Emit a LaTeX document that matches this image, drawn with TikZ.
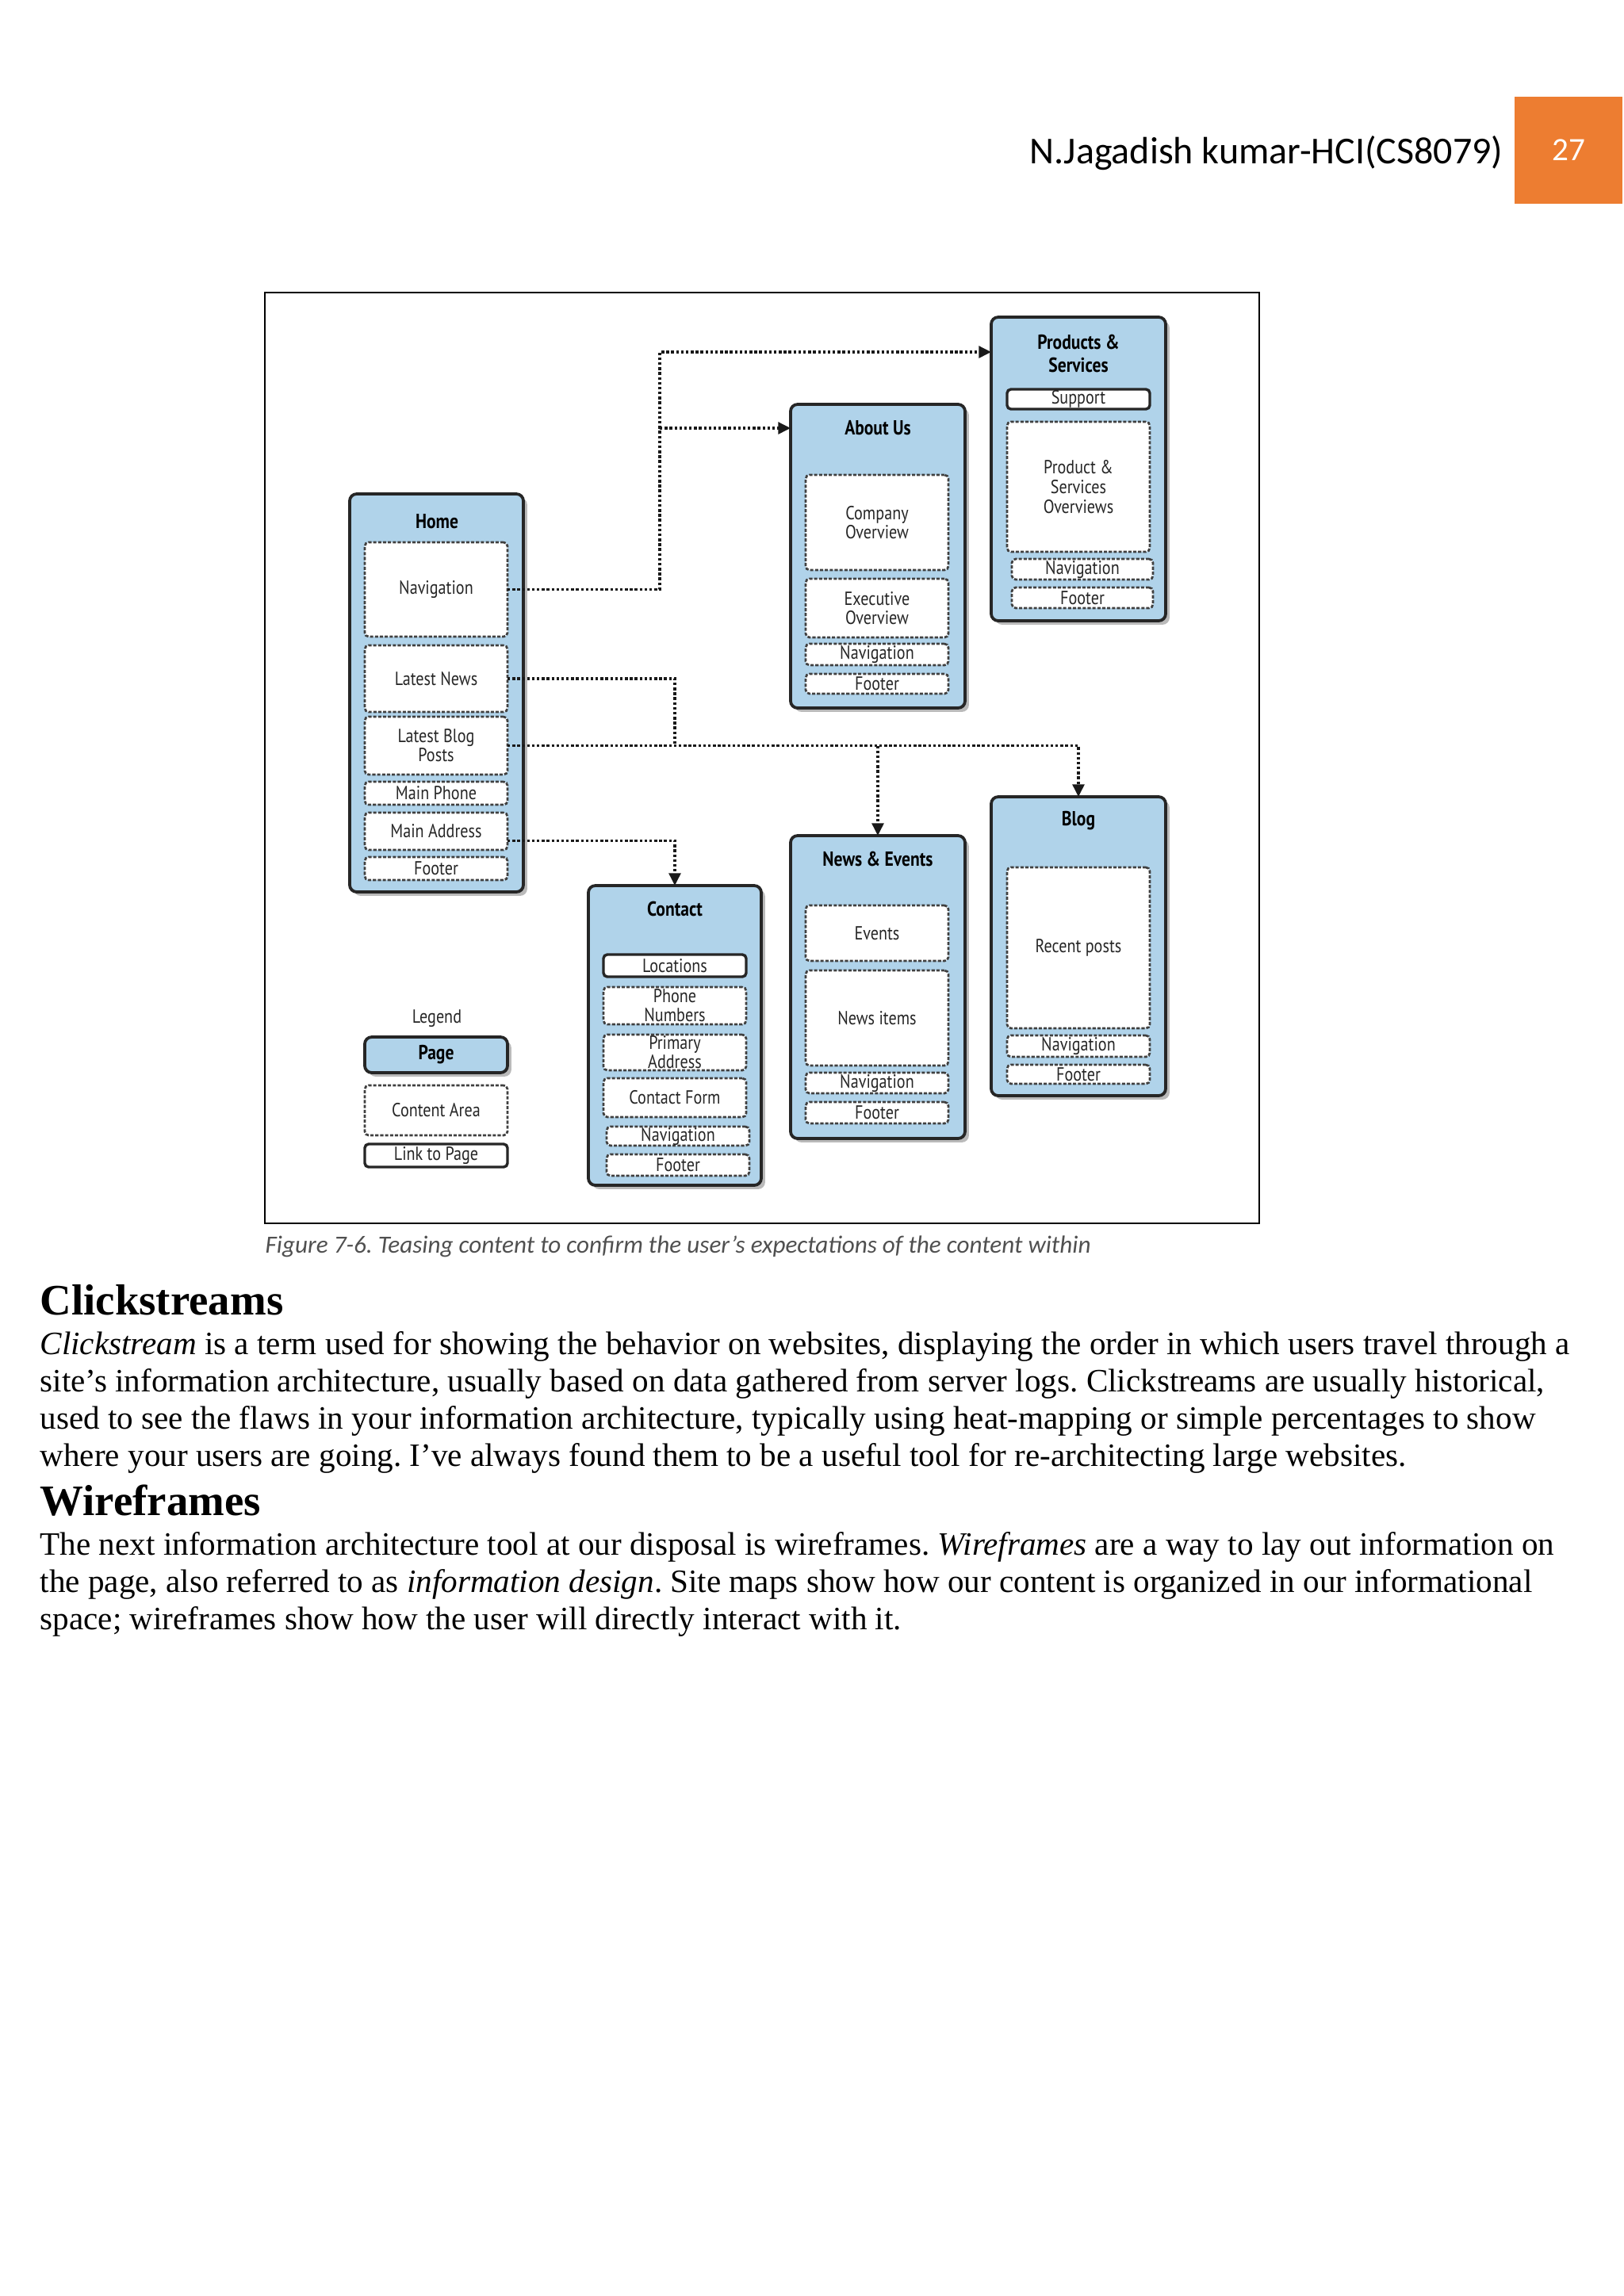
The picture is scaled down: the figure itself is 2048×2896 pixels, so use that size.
\documentclass[tikz,border=0pt]{standalone}
\usepackage{fontspec}
\setmainfont{Liberation Serif}
\newfontfamily\calibf{Carlito}
\newfontfamily\diagf[FakeStretch=0.84]{PT Sans}
\usetikzlibrary{shadows,arrows.meta,calc}
\definecolor{pageblue}{RGB}{176,211,234}
\definecolor{hdrorange}{RGB}{237,125,49}
\definecolor{captgray}{RGB}{80,80,80}
\newlength\px
\setlength\px{0.10254mm}
\newcommand\mkbox[7]{\node[#6, minimum width={(#4-#2)*\px}, minimum height={(#5-#3)*\px}] (#1) at ({(#2+#4)/2},{(#3+#5)/2}) {#7};}
\tikzset{
 pagebox/.style={draw=black!85, line width=1.1pt, fill=pageblue, rounded corners=0.9mm, inner sep=0pt, outer sep=0pt,
   drop shadow={shadow xshift=0.5mm, shadow yshift=-0.5mm, fill=black!60, opacity=0.45}},
 contentbox/.style={draw=black!75, line width=0.8pt, dash pattern=on 1.2pt off 0.6pt, fill=white, rounded corners=0.5mm,
   inner sep=0pt, outer sep=0pt, align=center, text=black!85, font=\diagf\fontsize{7}{7}\selectfont},
 linkbox/.style={draw=black!85, line width=1pt, fill=white, rounded corners=0.5mm, inner sep=0pt, outer sep=0pt,
   align=center, text=black!85, font=\diagf\fontsize{7}{7}\selectfont},
 pagetitle/.style={font=\diagf\bfseries\fontsize{7.5}{8.5}\selectfont, align=center, text=black, inner sep=0pt},
 link/.style={draw=black!90, line width=1pt, dash pattern=on 1pt off 0.8pt},
 linkarrow/.style={link, -{Triangle[length=1.6mm,width=1.5mm]}},
 bodyline/.style={anchor=base west, inner sep=0pt, font=\fontsize{12}{14}\selectfont},
 headline/.style={anchor=base west, inner sep=0pt, font=\bfseries\fontsize{16}{18}\selectfont},
}
\begin{document}
\frenchspacing
\begin{tikzpicture}[x=0.10254mm, y=-0.10254mm]
\useasboundingbox (0,0) rectangle (2048,2896);
\fill[white] (0,0) rectangle (2048,2896);
% header
\node[anchor=base east, inner sep=0pt, font=\calibf\fontsize{14}{16}\selectfont] (hdr) at (1896,206) {N.Jagadish kumar-HCI(CS8079)};
\mkbox{pagenum}{1910}{122}{2046}{257}{fill=hdrorange, inner sep=0pt, text=white, font=\calibf\fontsize{12}{14}\selectfont}{27}
% frame
\mkbox{frame}{334}{369}{1588}{1543}{draw=black, line width=0.6pt, inner sep=0pt}{}
% Home
\mkbox{home}{441}{623}{660}{1125}{pagebox}{}
\node[pagetitle] (hometitle) at (551,658) {Home};
\mkbox{hnav}{460}{684}{640}{803}{contentbox}{Navigation}
\mkbox{hnews}{460}{814}{640}{898}{contentbox}{Latest News}
\mkbox{hblog}{460}{904}{640}{977}{contentbox}{Latest Blog\\Posts}
\mkbox{hphone}{460}{986}{640}{1015}{contentbox}{Main Phone}
\mkbox{haddr}{460}{1025}{640}{1072}{contentbox}{Main Address}
\mkbox{hfoot}{460}{1081}{640}{1110}{contentbox}{Footer}
% About Us
\mkbox{about}{997}{510}{1217}{893}{pagebox}{}
\node[pagetitle] (abouttitle) at (1107,540) {About Us};
\mkbox{acomp}{1016}{599}{1196}{719}{contentbox}{Company\\Overview}
\mkbox{aexec}{1016}{730}{1196}{804}{contentbox}{Executive\\Overview}
\mkbox{anav}{1016}{812}{1196}{839}{contentbox}{Navigation}
\mkbox{afoot}{1016}{850}{1196}{875}{contentbox}{Footer}
% Products & Services
\mkbox{prod}{1250}{400}{1470}{783}{pagebox}{}
\node[pagetitle] (prodtitle) at (1360,446) {Products \&\\Services};
\mkbox{psupport}{1270}{491}{1450}{516}{linkbox}{Support}
\mkbox{pover}{1270}{532}{1450}{696}{contentbox, font=\diagf\fontsize{7}{7.2}\selectfont}{Product \&\\Services\\Overviews}
\mkbox{pnav}{1276}{705}{1454}{731}{contentbox}{Navigation}
\mkbox{pfoot}{1276}{741}{1454}{767}{contentbox}{Footer}
% Blog
\mkbox{blog}{1250}{1005}{1470}{1382}{pagebox}{}
\node[pagetitle] (blogtitle) at (1360,1035) {Blog};
\mkbox{brecent}{1270}{1094}{1450}{1297}{contentbox}{Recent posts}
\mkbox{bnav}{1270}{1306}{1450}{1333}{contentbox}{Navigation}
\mkbox{bfoot}{1270}{1343}{1450}{1367}{contentbox}{Footer}
% News & Events
\mkbox{news}{997}{1054}{1217}{1436}{pagebox}{}
\node[pagetitle] (newstitle) at (1107,1083) {News \& Events};
\mkbox{nevents}{1016}{1142}{1196}{1212}{contentbox}{Events}
\mkbox{nitems}{1016}{1224}{1196}{1344}{contentbox}{News items}
\mkbox{nnav}{1016}{1353}{1196}{1379}{contentbox}{Navigation}
\mkbox{nfoot}{1016}{1390}{1196}{1417}{contentbox}{Footer}
% Contact
\mkbox{contact}{742}{1117}{960}{1495}{pagebox}{}
\node[pagetitle] (contacttitle) at (851,1146) {Contact};
\mkbox{cloc}{761}{1204}{941}{1232}{linkbox}{Locations}
\mkbox{cphone}{761}{1245}{941}{1292}{contentbox}{Phone\\Numbers}
\mkbox{caddr}{761}{1305}{941}{1350}{contentbox}{Primary\\Address}
\mkbox{cform}{761}{1360}{941}{1409}{contentbox}{Contact Form}
\mkbox{cnav}{765}{1421}{945}{1445}{contentbox}{Navigation}
\mkbox{cfoot}{765}{1456}{945}{1483}{contentbox}{Footer}
% Legend
\node[font=\diagf\fontsize{7}{7}\selectfont, text=black!85, inner sep=0pt] (legendtitle) at (551,1285) {Legend};
\mkbox{lpage}{460}{1308}{640}{1353}{pagebox, font=\diagf\bfseries\fontsize{7.5}{8}\selectfont}{Page}
\mkbox{lcontent}{460}{1369}{640}{1432}{contentbox}{Content Area}
\mkbox{llink}{460}{1443}{640}{1472}{linkbox}{Link to Page}
% connectors
\coordinate (jtop) at (832,444);
\coordinate (jabout) at (832,540);
\coordinate (jnews) at (851,938);
\draw[linkarrow] (hnav.east) -| (jtop) -- (jtop -| prod.west);
\draw[linkarrow] (jabout) -- (jabout -| about.west);
\draw[link] (hnews.east) -| (jnews);
\draw[linkarrow] (hblog.east) -| (blog.north);
\draw[linkarrow] (news.north |- hblog.east) -- (news.north);
\draw[linkarrow] ($(haddr.east)!0.5!(haddr.south east)$) -| (contact.north);
% caption
\node[anchor=west, inner sep=0pt, text=captgray, font=\calibf\itshape] (caption) at (334,1572) {\resizebox{1041\px}{!}{Figure 7-6. Teasing content to confirm the user’s expectations of the content within}};
% text
\node[headline] (h1) at (50,1658) {Clickstreams};
\node[bodyline] (l1) at (50,1708) {\textit{Clickstream} is a term used for showing the behavior on websites, displaying the order in which users travel through a};
\node[bodyline] (l2) at (50,1755) {site’s information architecture, usually based on data gathered from server logs. Clickstreams are usually historical,};
\node[bodyline] (l3) at (50,1802) {used to see the flaws in your information architecture, typically using heat-mapping or simple percentages to show};
\node[bodyline] (l4) at (50,1849) {where your users are going. I’ve always found them to be a useful tool for re-architecting large websites.};
\node[headline] (h2) at (50,1911) {Wireframes};
\node[bodyline] (l5) at (50,1961) {The next information architecture tool at our disposal is wireframes. \textit{Wireframes} are a way to lay out information on};
\node[bodyline] (l6) at (50,2008) {the page, also referred to as \textit{information design}. Site maps show how our content is organized in our informational};
\node[bodyline] (l7) at (50,2055) {space; wireframes show how the user will directly interact with it.};
\end{tikzpicture}
\end{document}
